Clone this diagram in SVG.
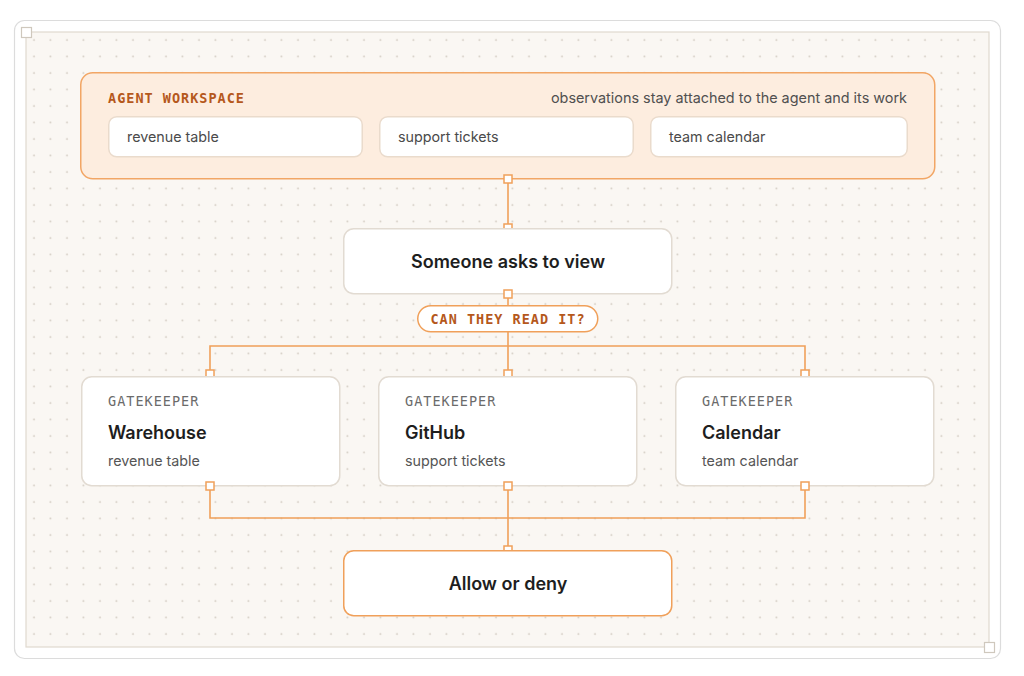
<svg xmlns="http://www.w3.org/2000/svg" width="1024" height="676" viewBox="0 0 1024 676">
  <defs>
    <pattern id="dots" x="26" y="32" width="16.5" height="16.5" patternUnits="userSpaceOnUse">
      <circle cx="8" cy="8" r="0.95" fill="#d3ccc2"/>
    </pattern>
    <style>
      .sans { font-family: Inter, "Liberation Sans", sans-serif; }
      .mono { font-family: "DejaVu Sans Mono", "Liberation Mono", monospace; }
      .wire { fill: none; stroke: #f0a05a; stroke-width: 1.6; }
      .port { fill: #fff; stroke: #f0a05a; stroke-width: 1.5; }
      .card { fill: #fff; stroke: #e2dbd2; stroke-width: 1.5; }
      .chip { fill: #fff; stroke: #eadbcc; stroke-width: 1.5; }
      .chiptext { font-size: 14.3px; fill: #4a4a4a; }
      .kicker { font-size: 13.5px; fill: #6b6b6b; letter-spacing: 1px; }
      .title { font-size: 18px; font-weight: 600; fill: #1e1e1e; }
      .sub { font-size: 14.3px; fill: #555; }
      .orange { fill: #b5581c; }
    </style>
  </defs>

  <!-- frame -->
  <rect x="14.5" y="20.5" width="986" height="638" rx="10" fill="#fff" stroke="#dcdcdc" stroke-width="1.2"/>
  <rect x="26" y="32" width="963" height="615" fill="#faf7f3" stroke="#e0d9cf" stroke-width="1.2"/>
  <rect x="26" y="32" width="963" height="615" fill="url(#dots)"/>
  <rect x="21.5" y="27.5" width="10" height="10" fill="#fff" stroke="#cfc8bd" stroke-width="1.2"/>
  <rect x="984.5" y="642.5" width="10" height="10" fill="#fff" stroke="#cfc8bd" stroke-width="1.2"/>

  <!-- connectors (drawn beneath nodes) -->
  <g id="connectors">
    <path class="wire" d="M508 179 V228"/>
    <path class="wire" d="M508 294 V305"/>
    <path class="wire" d="M508 332 V346 M210 374 V346 H805 V374 M508 346 V374"/>
    <path class="wire" d="M210 486 V518 H805 V486 M508 486 V550"/>
    <rect class="port" x="504" y="224" width="8" height="8"/>
    <rect class="port" x="206" y="370" width="8" height="8"/>
    <rect class="port" x="504" y="370" width="8" height="8"/>
    <rect class="port" x="801" y="370" width="8" height="8"/>
    <rect class="port" x="504" y="546" width="8" height="8"/>
  </g>

  <!-- agent workspace -->
  <g id="agent-workspace">
    <rect x="80.75" y="72.75" width="854" height="106" rx="12" fill="#fdeddf" stroke="#f2a665" stroke-width="1.5"/>
    <text class="mono orange" x="108" y="103" font-size="13.5" font-weight="bold" letter-spacing="1">AGENT WORKSPACE</text>
    <text class="sans" x="907" y="103" font-size="14.4" fill="#505050" text-anchor="end">observations stay attached to the agent and its work</text>
  </g>
  <g id="chip-revenue">
    <rect class="chip" x="108.75" y="116.75" width="253.5" height="40" rx="8"/>
    <text class="sans chiptext" x="127" y="142">revenue table</text>
  </g>
  <g id="chip-support">
    <rect class="chip" x="379.75" y="116.75" width="253.5" height="40" rx="8"/>
    <text class="sans chiptext" x="398" y="142">support tickets</text>
  </g>
  <g id="chip-calendar">
    <rect class="chip" x="650.75" y="116.75" width="256.5" height="40" rx="8"/>
    <text class="sans chiptext" x="669" y="142">team calendar</text>
  </g>

  <!-- request -->
  <g id="request">
    <rect class="card" x="343.75" y="228.75" width="328" height="65" rx="10"/>
    <text class="sans title" x="508" y="268" text-anchor="middle">Someone asks to view</text>
  </g>

  <!-- decision label -->
  <g id="question">
    <rect x="417.75" y="305.75" width="180" height="26" rx="13" fill="#fff" stroke="#f0a05a" stroke-width="1.5"/>
    <text class="mono orange" x="508" y="324" font-size="13.5" font-weight="bold" letter-spacing="1" text-anchor="middle">CAN THEY READ IT?</text>
  </g>

  <!-- gatekeepers -->
  <g id="gk-warehouse">
    <rect class="card" x="81.75" y="376.75" width="258" height="109" rx="10"/>
    <text class="mono kicker" x="108" y="406">GATEKEEPER</text>
    <text class="sans title" x="108" y="439">Warehouse</text>
    <text class="sans sub" x="108" y="466">revenue table</text>
  </g>
  <g id="gk-github">
    <rect class="card" x="378.75" y="376.75" width="258" height="109" rx="10"/>
    <text class="mono kicker" x="405" y="406">GATEKEEPER</text>
    <text class="sans title" x="405" y="439">GitHub</text>
    <text class="sans sub" x="405" y="466">support tickets</text>
  </g>
  <g id="gk-calendar">
    <rect class="card" x="675.75" y="376.75" width="258" height="109" rx="10"/>
    <text class="mono kicker" x="702" y="406">GATEKEEPER</text>
    <text class="sans title" x="702" y="439">Calendar</text>
    <text class="sans sub" x="702" y="466">team calendar</text>
  </g>

  <!-- result -->
  <g id="result">
    <rect x="343.75" y="550.75" width="328" height="65" rx="10" fill="#fff" stroke="#f0a05a" stroke-width="1.5"/>
    <text class="sans title" x="508" y="590" text-anchor="middle">Allow or deny</text>
  </g>

  <!-- source ports (drawn above nodes) -->
  <g id="ports">
    <rect class="port" x="504" y="175" width="8" height="8"/>
    <rect class="port" x="504" y="290" width="8" height="8"/>
    <rect class="port" x="206" y="482" width="8" height="8"/>
    <rect class="port" x="504" y="482" width="8" height="8"/>
    <rect class="port" x="801" y="482" width="8" height="8"/>
  </g>
</svg>
